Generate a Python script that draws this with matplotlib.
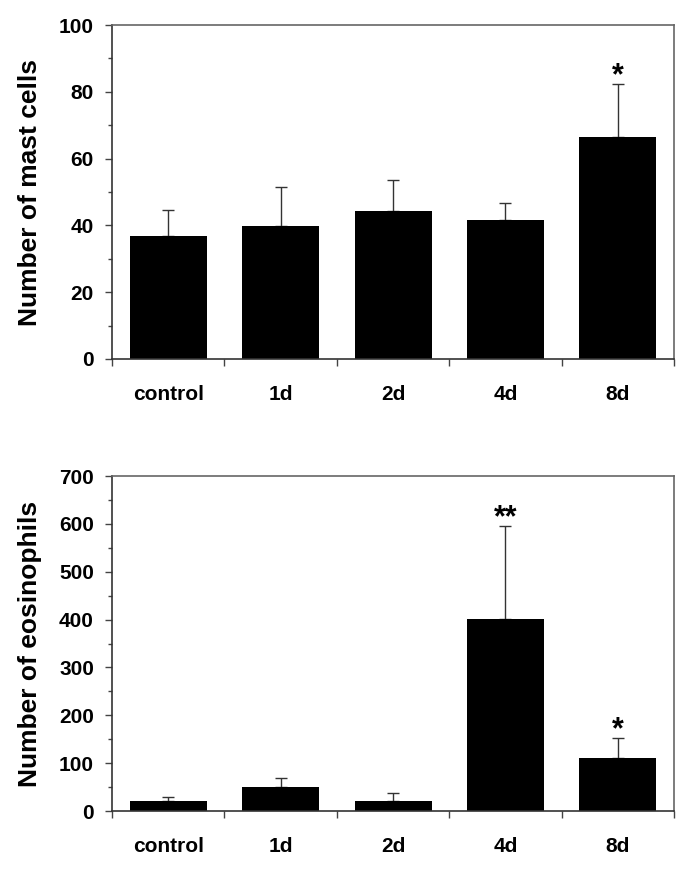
import numpy as np
import matplotlib.pyplot as plt
from matplotlib.ticker import MultipleLocator, FixedLocator

plt.rcParams['font.family'] = ['Liberation Sans', 'DejaVu Sans']
plt.rcParams['font.weight'] = 'bold'

groups = ['control', '1d', '2d', '4d', '8d']

mast = [36.9, 39.7, 44.4, 41.5, 66.4]
mast_err = [7.8, 11.7, 9.2, 5.2, 16.0]
mast_sig = ['', '', '', '', '*']

eos = [20, 51, 22, 402, 110.7]
eos_err = [9, 18, 16, 193, 41.8]
eos_sig = ['', '', '', '**', '*']

fig = plt.figure(figsize=(6.89, 8.69), dpi=100)
ax1 = fig.add_axes([0.1626, 0.5869, 0.8157, 0.3843])
ax2 = fig.add_axes([0.1626, 0.0667, 0.8157, 0.3855])


def draw(ax, vals, errs, sig, ymax, major, minor, ylabel):
    x = np.arange(len(groups))
    ax.bar(x, vals, width=0.685, color='black', zorder=2)
    ax.errorbar(x, vals, yerr=[np.zeros(len(vals)), errs], fmt='none',
                ecolor='#333333', elinewidth=1.0, capsize=4, capthick=1.0, zorder=1)
    # significance stars just above the caps
    for xi, v, e, s in zip(x, vals, errs, sig):
        if s:
            ax.annotate(s, xy=(xi, v + e), xytext=(0, 0), textcoords='offset points',
                        ha='center', va='baseline', fontsize=22, fontweight='bold')
    ax.set_xlim(-0.5, len(groups) - 0.5)
    ax.set_ylim(0, ymax)
    ax.yaxis.set_major_locator(MultipleLocator(major))
    ax.yaxis.set_minor_locator(MultipleLocator(minor))
    ax.xaxis.set_major_locator(FixedLocator(np.arange(-0.5, len(groups), 1)))
    ax.xaxis.set_major_formatter(plt.NullFormatter())
    ax.xaxis.set_minor_locator(FixedLocator(x))
    ax.set_xticklabels(groups, minor=True)
    ax.tick_params(axis='x', which='minor', length=0, pad=19, labelsize=15)
    ax.tick_params(axis='x', which='major', direction='out', length=5, width=1.0,
                   color='#444444')
    ax.tick_params(axis='y', which='major', direction='out', length=5, width=1.0,
                   labelsize=15, pad=8, color='#444444')
    ax.tick_params(axis='y', which='minor', direction='out', length=3, width=1.0,
                   color='#444444')
    for side in ['top', 'right']:
        ax.spines[side].set_color('#666666')
        ax.spines[side].set_linewidth(1.2)
    for side in ['left', 'bottom']:
        ax.spines[side].set_color('#333333')
        ax.spines[side].set_linewidth(1.2)
    ax.set_ylabel(ylabel, fontsize=19, fontweight='bold')
    ax.yaxis.set_label_coords(-0.125, 0.5)


draw(ax1, mast, mast_err, mast_sig, 100, 20, 10, 'Number of mast cells')
draw(ax2, eos, eos_err, eos_sig, 700, 100, 50, 'Number of eosinophils')

fig.savefig('out.png', dpi=100)
